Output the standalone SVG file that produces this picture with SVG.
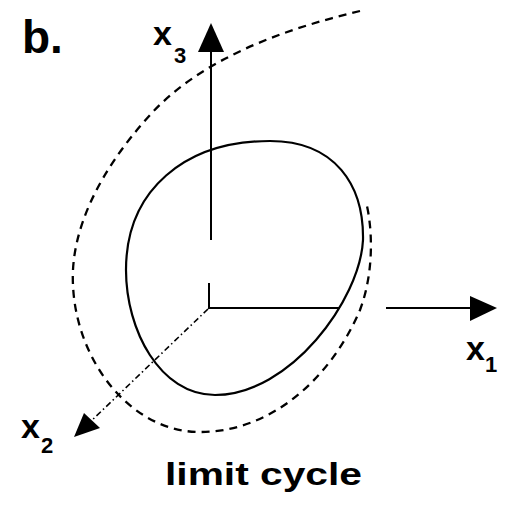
<svg xmlns="http://www.w3.org/2000/svg" width="514" height="505" viewBox="0 0 514 505">
<style>
.ax{stroke:#000;stroke-width:2;fill:none}
.lbl{font-family:"Liberation Sans",Arial,sans-serif;fill:#000}
.cyc{stroke:#000;stroke-width:2.2;fill:none}
.dash{stroke:#000;stroke-width:2.3;fill:none;stroke-dasharray:8 6}
.dd{stroke:#000;stroke-width:1.6;fill:none;stroke-dasharray:6 3 1.5 3}
</style>
<rect width="514" height="505" fill="#fff"/>
<g id="connectors">
<line class="ax" x1="211" y1="240" x2="211" y2="50"/>
<polygon points="211,23 198,52 224,52" fill="#000"/>
<line class="ax" x1="209" y1="283" x2="209" y2="307"/>
<line class="ax" x1="208" y1="308" x2="340" y2="308"/>
<line class="ax" x1="386" y1="308" x2="472" y2="308"/>
<polygon points="497,308 470,296 470,321" fill="#000"/>
<line class="dd" x1="208" y1="309" x2="88" y2="424"/>
<polygon points="74,437 84,413 100,428" fill="#000"/>
</g>
<g id="outer-trajectory">
<path class="dash" d="M 360 11 C 280 30, 200 60, 150 115 C 100 170, 70 230, 73 285 C 76 360, 130 432, 200 432 C 270 432, 330 380, 360 310 C 375 270, 372 225, 366 202"/>
</g>
<g id="limit-cycle">
<path class="cyc" d="M 270 141 C 335 141, 364 185, 363 240 C 360 300, 290 395, 215 395 C 160 395, 126 330, 126 270 C 126 190, 185 141, 270 141 Z"/>
</g>
<g id="labels">
<text class="lbl" x="22" y="53" font-size="46" font-weight="bold">b.</text>
<text class="lbl" x="153" y="45" font-size="34" font-weight="bold">x</text>
<text class="lbl" x="174" y="63" font-size="22" font-weight="bold">3</text>
<text class="lbl" x="466" y="360" font-size="34" font-weight="bold">x</text>
<text class="lbl" x="485" y="372" font-size="22" font-weight="bold">1</text>
<text class="lbl" x="21" y="438" font-size="34" font-weight="bold">x</text>
<text class="lbl" x="41" y="453" font-size="22" font-weight="bold">2</text>
<text class="lbl" x="165" y="485" font-size="31" font-weight="bold" textLength="197" lengthAdjust="spacingAndGlyphs">limit cycle</text>
</g>
</svg>
